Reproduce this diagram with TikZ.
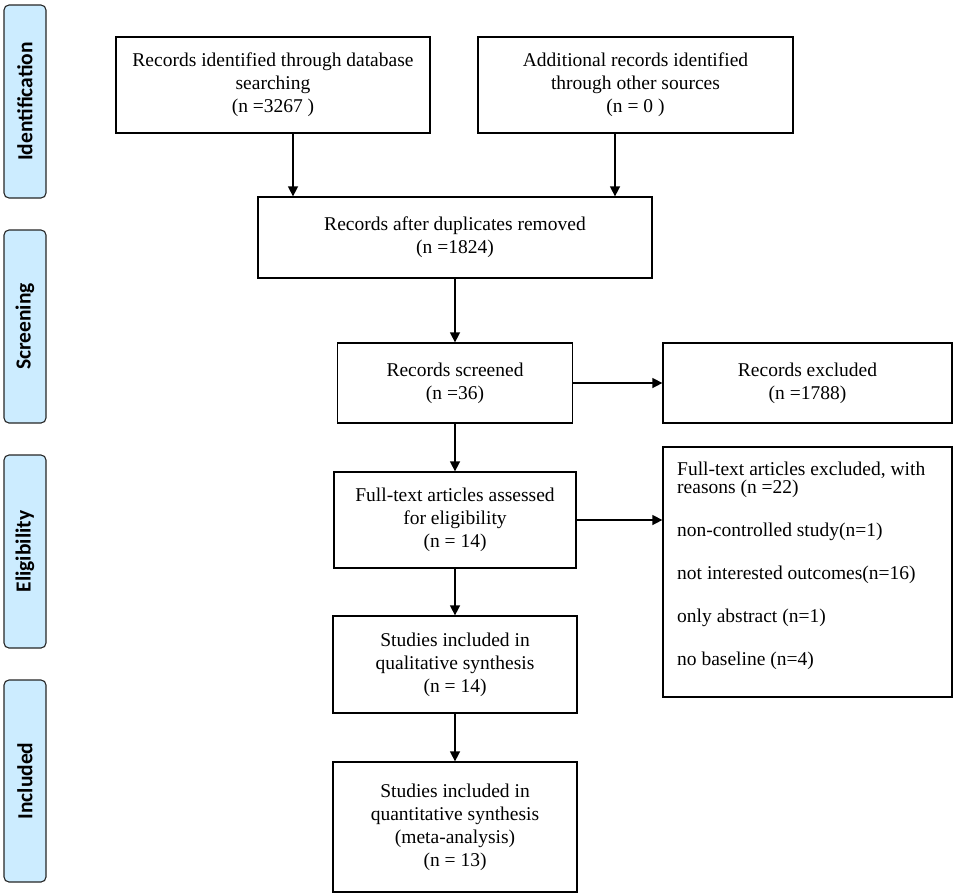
\documentclass[tikz,border=0pt]{standalone}
\usepackage{fontspec}
\setmainfont{Liberation Serif}
\newfontfamily\stagefont{Carlito}
\usepackage{xcolor}
\usetikzlibrary{arrows.meta}
\definecolor{stagefill}{RGB}{204,236,255}

\begin{document}
\begin{tikzpicture}[
  x=1pt, y=-1pt,
  box/.style={draw, line width=1.3pt, align=center, inner sep=0pt, font=\fontsize{19.5}{23}\selectfont},
  stage/.style={draw=black!85, line width=1.1pt, rounded corners=5pt, fill=stagefill, rotate=90, minimum height=42, inner sep=0pt, font=\stagefont\bfseries\fontsize{21.5}{24}\selectfont},
  arr/.style={line width=1.5pt, -{Triangle[length=10pt,width=10pt]}}
]
  \useasboundingbox (0,0) rectangle (957,895);
  \node[stage, minimum width=193] (ident) at (25,101.5) {Identification};
  \node[stage, minimum width=193] (screen) at (25,326.5) {Screening};
  \node[stage, minimum width=193] (elig) at (25,551.5) {Eligibility};
  \node[stage, minimum width=202] (incl) at (25,781) {Included};
  \node[box, minimum width=314, minimum height=96] (dbsearch) at (273,85) {Records identified through database\\searching\\(n =3267 )};
  \node[box, minimum width=315, minimum height=96] (othersrc) at (635.5,85) {Additional records identified\\through other sources\\(n = 0 )};
  \node[box, minimum width=394, minimum height=81] (dedup) at (455,237.5) {Records after duplicates removed\\(n =1824)};
  \node[box, minimum width=235, minimum height=80] (screened) at (455,383) {Records screened\\(n =36)};
  \node[box, minimum width=289, minimum height=80] (excluded) at (807.5,383) {Records excluded\\(n =1788)};
  \node[box, minimum width=242, minimum height=96] (fulltext) at (455,520) {Full-text articles assessed\\for eligibility\\(n = 14)};
  \node[box, minimum width=289, minimum height=250] (exclft) at (807.5,572) {};
  \node[anchor=north west, inner sep=0pt, align=left, font=\fontsize{19.5}{23}\selectfont] (reasons) at (677,462) {Full-text articles excluded, with\\[-5pt]reasons (n =22)\\[20pt]non-controlled study(n=1)\\[20pt]not interested outcomes(n=16)\\[20pt]only abstract (n=1)\\[20pt]no baseline (n=4)};
  \node[box, minimum width=244, minimum height=97] (qual) at (455,664.5) {Studies included in\\qualitative synthesis\\(n = 14)};
  \node[box, minimum width=244, minimum height=130] (quant) at (455,827) {Studies included in\\quantitative synthesis\\(meta-analysis)\\(n = 13)};
  \draw[arr] ([xshift=20pt]dbsearch.south) -- ([xshift=20pt]dbsearch.south |- dedup.north);
  \draw[arr] ([xshift=-20.5pt]othersrc.south) -- ([xshift=-20.5pt]othersrc.south |- dedup.north);
  \draw[arr] (dedup) -- (screened);
  \draw[arr] (screened) -- (excluded);
  \draw[arr] (screened) -- (fulltext);
  \draw[arr] (fulltext.east) -- (fulltext.east -| exclft.west);
  \draw[arr] (fulltext) -- (qual);
  \draw[arr] (qual) -- (quant);
\end{tikzpicture}
\end{document}
